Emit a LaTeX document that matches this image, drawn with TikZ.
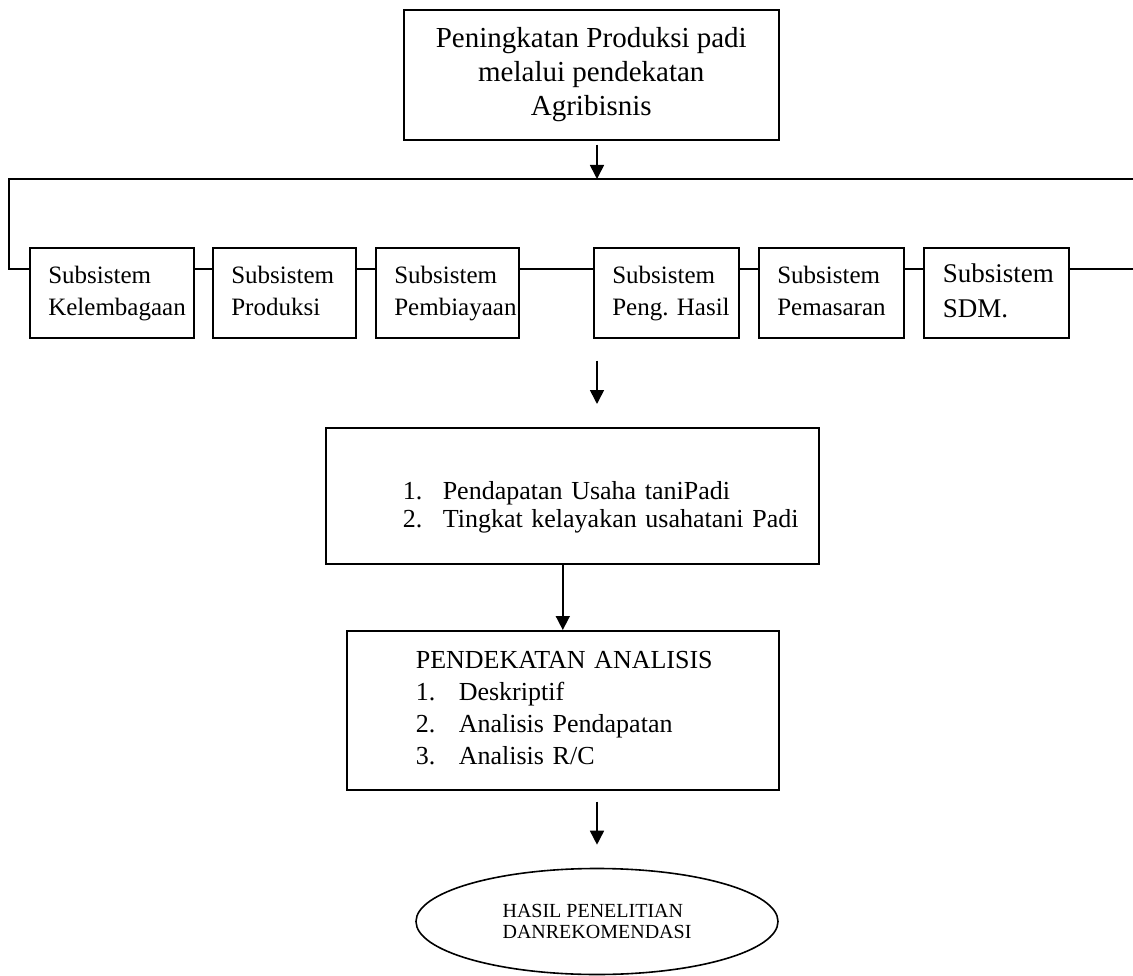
\documentclass[tikz,border=0pt]{standalone}
\usepackage{fontspec}
\setmainfont{Liberation Serif}
\usepackage{array}
\usetikzlibrary{arrows.meta,shapes.geometric}
\frenchspacing

\begin{document}
\begin{tikzpicture}[x=1pt,y=-1pt,
    kotak/.style={draw, line width=1.6pt, inner sep=0pt, anchor=north west},
    subsis/.style={kotak, minimum height=90pt, inner xsep=18.5pt, align=left,
                   font=\fontsize{25}{32}\selectfont,
                   execute at begin node={\strut}, execute at end node={\strut}},
    panah/.style={line width=1.6pt, -{Triangle[width=14pt,length=14pt]}},
    garis/.style={line width=1.6pt}]
  \useasboundingbox (0,0) rectangle (1133,976);

  % judul
  \node[kotak, minimum width=375pt, minimum height=130pt, align=center,
        font=\fontsize{29}{34}\selectfont] (judul) at (403,9)
        {Peningkatan Produksi padi\\melalui pendekatan\\Agribisnis};

  \coordinate (busL) at (9,179);
  \coordinate (busR) at (1133,179);
  \coordinate (cabang) at (597,179);
  \coordinate (jalur) at (0,269);

  % subsistem
  \node[subsis, minimum width=164pt, text width=127pt] (s1) at (29,247) {Subsistem\\Kelembagaan};
  \node[subsis, minimum width=143pt, text width=106pt] (s2) at (212,247) {Subsistem\\Produksi};
  \node[subsis, minimum width=143pt, text width=106pt] (s3) at (375,247) {Subsistem\\Pembiayaan};
  \node[subsis, minimum width=145pt, text width=108pt] (s4) at (593,247) {Subsistem\\\mbox{Peng. Hasil}};
  \node[subsis, minimum width=145pt, text width=108pt] (s5) at (758,247) {Subsistem\\Pemasaran};
  \node[subsis, minimum width=145pt, text width=107pt, inner xsep=19pt,
        font=\fontsize{27}{35}\selectfont] (s6) at (923,247) {Subsistem\\SDM.};

  % hasil usahatani
  \node[kotak, minimum width=493pt, minimum height=136pt, text width=339pt,
        inner xsep=77pt, align=left, font=\fontsize{26}{28}\selectfont] (hasil) at (325,427)
        {\begin{tabular}{@{}p{40pt}@{}l@{}}
           \multicolumn{2}{@{}l@{}}{}\\[-4pt]
           1. & Pendapatan Usaha taniPadi\\
           2. & Tingkat kelayakan usahatani Padi
         \end{tabular}};

  % analisis
  \node[kotak, minimum width=432pt, minimum height=159pt, text width=294pt,
        inner xsep=69pt, align=left, font=\fontsize{26}{32}\selectfont] (analisis) at (346,630)
        {\begin{tabular}{@{}p{43pt}@{}l@{}}
           \multicolumn{2}{@{}l@{}}{PENDEKATAN ANALISIS}\\
           1. & Deskriptif\\
           2. & Analisis Pendapatan\\
           3. & Analisis R/C
         \end{tabular}};

  \node[draw, ellipse, line width=1.6pt, minimum width=362pt, minimum height=106pt,
        inner sep=0pt, align=left, font=\fontsize{20}{21}\selectfont] (akhir) at (597,921.5)
        {HASIL PENELITIAN\\DANREKOMENDASI};

  % garis dan panah
  \draw[panah] ([yshift=-4pt]judul.south -| cabang) -- (cabang);
  \draw[garis] (busR) -- (busL) |- (s1.west |- jalur);
  \foreach \a/\b in {s1/s2,s2/s3,s3/s4,s4/s5,s5/s6}
    \draw[garis] (\a.east |- jalur) -- (\b.west |- jalur);
  \draw[garis] (s6.east |- jalur) -- (jalur -| busR);

  \draw[panah] ([yshift=-22pt]s4.south -| cabang) -- ([yshift=23pt]hasil.north -| cabang);
  \draw[panah] (hasil.south -| analisis.north) -- (analisis.north);
  \draw[panah] ([yshift=-11pt]analisis.south -| cabang) -- ([yshift=23pt]akhir.north);
\end{tikzpicture}
\end{document}
